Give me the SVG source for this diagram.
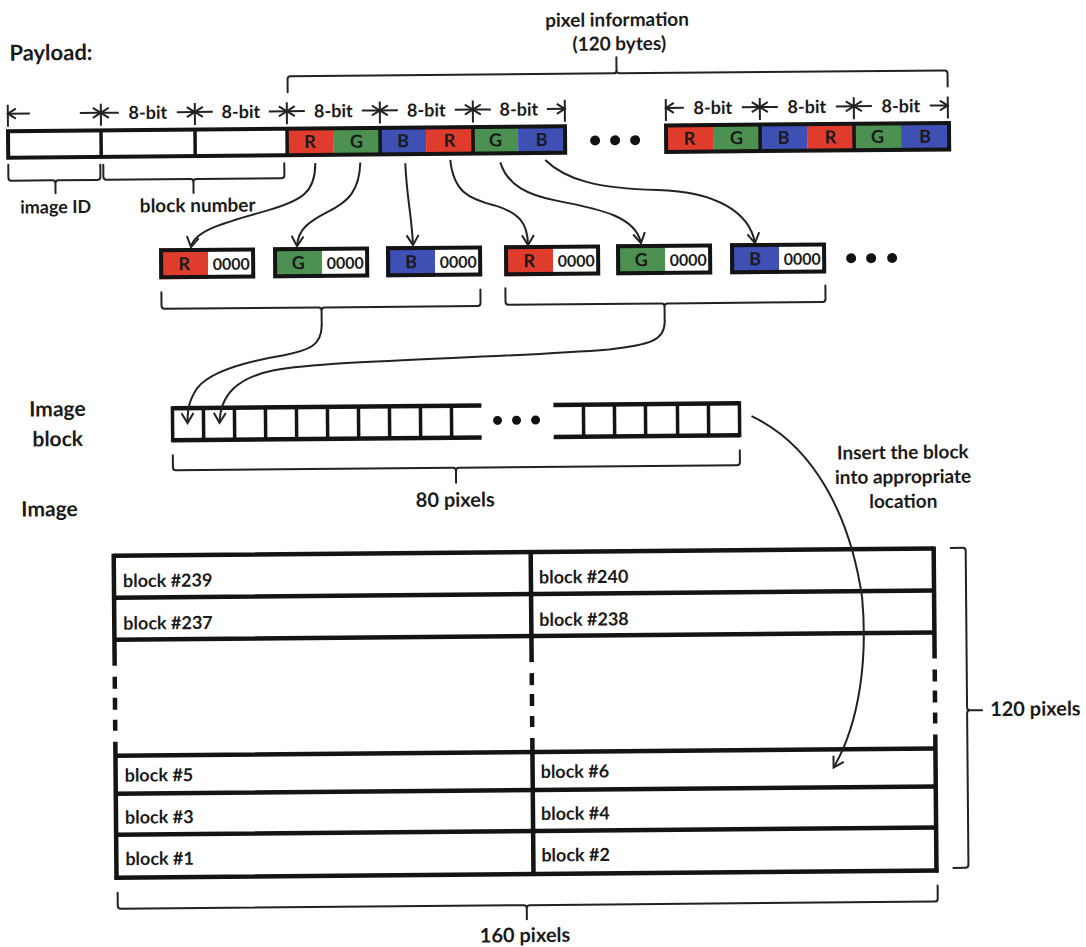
<svg xmlns="http://www.w3.org/2000/svg" width="1086" height="947" viewBox="0 0 1086 947">
<defs>
<style>
.t{font-family:Lato,"Liberation Sans",sans-serif;font-weight:bold;fill:#1a1a1a}
.s18{font-size:18px}.s19{font-size:19px}.s20{font-size:20px}.s21{font-size:21px}.s22{font-size:22px}.s16{font-size:16px}
.m{text-anchor:middle}
.ol{fill:none;stroke:#141414;stroke-width:4}
.dv{stroke:#141414;stroke-width:3.5}
.br{fill:none;stroke:#222;stroke-width:2;stroke-linejoin:round;stroke-linecap:round}
.dim{stroke:#222;stroke-width:2;fill:none}
.cv{fill:none;stroke:#222;stroke-width:2}
.gl{stroke:#141414;stroke-width:4.5;fill:none}
.R{fill:#E03C2E}.G{fill:#4C9151}.B{fill:#3F50B4}.W{fill:#fff}
.dot{fill:#111}
</style>
<marker id="ah" viewBox="-10 -6 12 12" markerWidth="12" markerHeight="12" refX="0" refY="0" orient="auto" markerUnits="userSpaceOnUse"><path d="M-8,-5 L0,0 L-8,5" fill="none" stroke="#222" stroke-width="2"/></marker>
<marker id="ahc" viewBox="-12 -7 14 14" markerWidth="14" markerHeight="14" refX="0" refY="0" orient="auto" markerUnits="userSpaceOnUse"><path d="M-10,-6 L0,0 L-10,6" fill="none" stroke="#222" stroke-width="2"/></marker>
</defs>
<rect width="1086" height="947" fill="#fff"/>
<g transform="rotate(-0.5 543 473)">

<g id="labels">
<text class="t s22" x="13" y="56">Payload:</text>
<text class="t s19 m" x="621" y="27">pixel information</text>
<text class="t s19 m" x="623" y="51">(120 bytes)</text>
<text class="t s18 m" x="58" y="209">image ID</text>
<text class="t s19 m" x="200" y="209">block number</text>
<text class="t s21 m" x="58" y="412">Image</text>
<text class="t s21 m" x="58" y="442">block</text>
<text class="t s20 m" x="455" y="506">80 pixels</text>
<text class="t s21" x="21" y="512">Image</text>
<text class="t s19 m" x="903" y="462">Insert the block</text>
<text class="t s19 m" x="903" y="486.5">into appropriate</text>
<text class="t s19 m" x="903" y="511">location</text>
<text class="t s20" x="988" y="720">120 pixels</text>
<text class="t s20 m" x="521" y="942">160 pixels</text>
</g>

<g id="dimensions">
<g class="dim">
<path d="M11,100V122M104,100V122M198,100V122M290,100V122M383,100V122M476,100V122M568,100V122M669,100V122M763,100V122M857,100V122M951,100V122"/>
</g>
<g class="dim" marker-end="url(#ah)">
<line x1="33" y1="109" x2="11" y2="109"/><line x1="83" y1="109" x2="104" y2="109"/>
<line x1="122" y1="109" x2="104" y2="109"/><line x1="180" y1="109" x2="198" y2="109"/>
<line x1="216" y1="109" x2="198" y2="109"/><line x1="272" y1="109" x2="290" y2="109"/>
<line x1="308" y1="109" x2="290" y2="109"/><line x1="365" y1="109" x2="383" y2="109"/>
<line x1="401" y1="109" x2="383" y2="109"/><line x1="458" y1="109" x2="476" y2="109"/>
<line x1="494" y1="109" x2="476" y2="109"/><line x1="550" y1="109" x2="568" y2="109"/>
<line x1="687" y1="109" x2="669" y2="109"/><line x1="745" y1="109" x2="763" y2="109"/>
<line x1="781" y1="109" x2="763" y2="109"/><line x1="839" y1="109" x2="857" y2="109"/>
<line x1="875" y1="109" x2="857" y2="109"/><line x1="933" y1="109" x2="951" y2="109"/>
</g>
<text class="t s18 m" x="151" y="115.5">8-bit</text>
<text class="t s18 m" x="244" y="115.5">8-bit</text>
<text class="t s18 m" x="336.5" y="115.5">8-bit</text>
<text class="t s18 m" x="429.5" y="115.5">8-bit</text>
<text class="t s18 m" x="522" y="115.5">8-bit</text>
<text class="t s18 m" x="716" y="115.5">8-bit</text>
<text class="t s18 m" x="810" y="115.5">8-bit</text>
<text class="t s18 m" x="904" y="115.5">8-bit</text>
</g>

<g id="payload-bar">
<rect class="W" x="11" y="126.5" width="279" height="26.5"/>
<rect class="R" x="290" y="126.5" width="46" height="26.5"/>
<rect class="G" x="336" y="126.5" width="47" height="26.5"/>
<rect class="B" x="383" y="126.5" width="46" height="26.5"/>
<rect class="R" x="429" y="126.5" width="47" height="26.5"/>
<rect class="G" x="476" y="126.5" width="45" height="26.5"/>
<rect class="B" x="521" y="126.5" width="47" height="26.5"/>
<rect class="ol" x="11" y="126.5" width="557" height="26.5"/>
<path class="dv" d="M104,126.5V153M198,126.5V153M290,126.5V153M383,126.5V153M476,126.5V153"/>
<text class="t s18 m" x="313" y="146">R</text>
<text class="t s18 m" x="359.5" y="146">G</text>
<text class="t s18 m" x="406" y="146">B</text>
<text class="t s18 m" x="452.5" y="146">R</text>
<text class="t s18 m" x="498.5" y="146">G</text>
<text class="t s18 m" x="544.5" y="146">B</text>
</g>

<g id="payload-dots">
<circle class="dot" cx="598" cy="141" r="5"/><circle class="dot" cx="618" cy="141" r="5"/><circle class="dot" cx="638" cy="141" r="5"/>
</g>

<g id="payload-bar-end">
<rect class="R" x="669" y="126.5" width="47" height="26.5"/>
<rect class="G" x="716" y="126.5" width="47" height="26.5"/>
<rect class="B" x="763" y="126.5" width="47" height="26.5"/>
<rect class="R" x="810" y="126.5" width="47" height="26.5"/>
<rect class="G" x="857" y="126.5" width="47" height="26.5"/>
<rect class="B" x="904" y="126.5" width="48" height="26.5"/>
<rect class="ol" x="669" y="126.5" width="283" height="26.5"/>
<path class="dv" d="M763,126.5V153M857,126.5V153"/>
<text class="t s18 m" x="692.5" y="146">R</text>
<text class="t s18 m" x="739.5" y="146">G</text>
<text class="t s18 m" x="786.5" y="146">B</text>
<text class="t s18 m" x="833.5" y="146">R</text>
<text class="t s18 m" x="880.5" y="146">G</text>
<text class="t s18 m" x="928" y="146">B</text>
</g>

<g id="braces">
<path class="br" d="M11,160V173Q11,176 14,176H55Q58,176 58,179V189M58,179Q58,176 61,176H100Q103,176 103,173V161"/>
<path class="br" d="M106,161V173Q106,176 109,176H193Q196,176 196,179V190M196,179Q196,176 199,176H284Q287,176 287,173V161"/>
<path class="br" d="M291,90V77Q291,74 294,74H617Q620,74 620,71V58M620,71Q620,74 623,74H948Q951,74 951,77V90"/>
<path class="br" d="M163,289V302.5Q163,305.5 166,305.5H320Q323,305.5 323,308.5V323M323,308.5Q323,305.5 326,305.5H479Q482,305.5 482,302.5V289"/>
<path class="br" d="M507,288V301.5Q507,304.5 510,304.5H663Q666,304.5 666,307.5V321M666,307.5Q666,304.5 669,304.5H824Q827,304.5 827,301.5V288"/>
<path class="br" d="M173,452V464Q173,467 176,467H453Q456,467 456,470V482M456,470Q456,467 459,467H737Q740,467 740,464V452"/>
<path class="br" d="M114,889V902Q114,905 117,905H520Q523,905 523,908V919M523,908Q523,905 526,905H931Q934,905 934,902V889"/>
<path class="br" d="M950,551.5H962Q965,551.5 965,554.5V711Q965,714 968,714H980M968,714Q965,714 965,717V868.5Q965,871.5 962,871.5H950"/>
</g>

<g id="pixel-boxes">
<g id="px1"><rect class="R" x="161" y="245" width="49" height="31"/><rect class="W" x="210" y="245" width="47" height="31"/><rect class="ol" x="163" y="247" width="92" height="27"/><text class="t s18 m" x="186" y="267">R</text><text class="t s16 m" x="233" y="267">0000</text></g>
<g id="px2"><rect class="G" x="275" y="245" width="49" height="31"/><rect class="W" x="324" y="245" width="47" height="31"/><rect class="ol" x="277" y="247" width="92" height="27"/><text class="t s18 m" x="300" y="267">G</text><text class="t s16 m" x="347" y="267">0000</text></g>
<g id="px3"><rect class="B" x="388" y="245" width="49" height="31"/><rect class="W" x="437" y="245" width="47" height="31"/><rect class="ol" x="390" y="247" width="92" height="27"/><text class="t s18 m" x="413" y="267">B</text><text class="t s16 m" x="460" y="267">0000</text></g>
<g id="px4"><rect class="R" x="506" y="245" width="49" height="31"/><rect class="W" x="555" y="245" width="47" height="31"/><rect class="ol" x="508" y="247" width="92" height="27"/><text class="t s18 m" x="531" y="267">R</text><text class="t s16 m" x="578" y="267">0000</text></g>
<g id="px5"><rect class="G" x="618" y="245" width="49" height="31"/><rect class="W" x="667" y="245" width="47" height="31"/><rect class="ol" x="620" y="247" width="92" height="27"/><text class="t s18 m" x="643" y="267">G</text><text class="t s16 m" x="690" y="267">0000</text></g>
<g id="px6"><rect class="B" x="732" y="245" width="49" height="31"/><rect class="W" x="781" y="245" width="47" height="31"/><rect class="ol" x="734" y="247" width="92" height="27"/><text class="t s18 m" x="757" y="267">B</text><text class="t s16 m" x="804" y="267">0000</text></g>
<g id="px-dots"><circle class="dot" cx="853" cy="261" r="5"/><circle class="dot" cx="873" cy="261" r="5"/><circle class="dot" cx="894" cy="261" r="5"/></g>
</g>

<g id="image-block">
<path class="gl" d="M173,405H482M173,437H482M554,405H740M554,437H740"/>
<path class="dv" style="stroke-width:3.5" d="M173,403V439M204,405V437M235,405V437M266,405V437M297,405V437M328,405V437M359,405V437M390,405V437M421,405V437M452,405V437M584,405V437M615,405V437M646,405V437M678,405V437M709,405V437M740,403V439"/>
<circle class="dot" cx="498" cy="420" r="4.5"/><circle class="dot" cx="517" cy="420" r="4.5"/><circle class="dot" cx="536" cy="420" r="4.5"/>
</g>

<g id="image-grid">
<path class="gl" d="M113,552H933M113,594H933M113,636H933M113,752H933M113,790H933M113,831H933M111,874H935"/>
<path class="gl" d="M113,550V662M113,673V685M113,694V706M113,716V727M113,738V876M530,552V662M530,673V685M530,694V706M530,716V727M530,738V874M933,550V662M933,673V685M933,694V706M933,716V727M933,738V876"/>
<text class="t s18" x="122" y="583.5">block #239</text>
<text class="t s18" x="538" y="583.5">block #240</text>
<text class="t s18" x="122" y="626">block #237</text>
<text class="t s18" x="538" y="626">block #238</text>
<text class="t s18" x="122" y="778">block #5</text>
<text class="t s18" x="538" y="778">block #6</text>
<text class="t s18" x="122" y="820">block #3</text>
<text class="t s18" x="538" y="820">block #4</text>
<text class="t s18" x="122" y="861.5">block #1</text>
<text class="t s18" x="538" y="861.5">block #2</text>
</g>

<g id="connectors" class="cv" marker-end="url(#ahc)">
<path d="M318,161C318,190 305,198 270,208C225,220 196,228 193,244"/>
<path d="M363,161C362,190 350,200 330,210C310,220 300,228 299,244"/>
<path d="M408,162C409,195 414,215 415,244"/>
<path d="M453,159C456,190 470,198 497,205C520,212 530,222 530,245"/>
<path d="M503,162C510,185 530,195 560,201C605,210 638,218 643,244"/>
<path d="M548,160C568,180 600,189 660,191C720,193 752,215 757,245"/>
<path d="M323,323C323,344 310,348 285,353C240,360 210,370 198,385C190,397 188,405 188,420"/>
<path d="M666,321C667,342 650,346 610,350C500,358 330,358 275,368C238,375 221,392 220,420"/>
<path d="M752,418C815,448 850,520 861,600C866,660 858,725 831,770"/>
</g>
</g>
</svg>
